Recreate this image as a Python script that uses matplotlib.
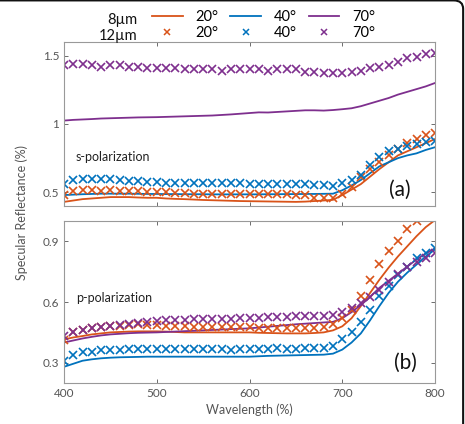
import numpy as np
import matplotlib
matplotlib.use('Agg')
import matplotlib.pyplot as plt
from matplotlib.lines import Line2D
from matplotlib.patches import FancyBboxPatch

plt.rcParams['font.family'] = ['Lato', 'DejaVu Sans']

# wavelength grid (nm), 10 nm step
wl = np.arange(400, 801, 10)

# ---- s-polarization (a) ----
s_line20 = [0.43, 0.44, 0.45, 0.455, 0.46, 0.465, 0.465, 0.465, 0.462, 0.46, 0.46,
            0.455, 0.452, 0.45, 0.447, 0.444, 0.442, 0.44, 0.438, 0.436, 0.435,
            0.434, 0.433, 0.432, 0.431, 0.43, 0.432, 0.436, 0.44, 0.445, 0.48,
            0.52, 0.56, 0.615, 0.67, 0.72, 0.77, 0.80, 0.83, 0.86, 0.89]
s_line40 = [0.48, 0.483, 0.486, 0.488, 0.49, 0.49, 0.49, 0.49, 0.489, 0.488, 0.488,
            0.487, 0.487, 0.486, 0.486, 0.486, 0.485, 0.485, 0.485, 0.485, 0.485,
            0.485, 0.486, 0.486, 0.487, 0.487, 0.488, 0.488, 0.489, 0.49, 0.515,
            0.55, 0.59, 0.64, 0.69, 0.72, 0.75, 0.77, 0.785, 0.81, 0.83]
s_line70 = [1.025, 1.03, 1.033, 1.036, 1.04, 1.042, 1.044, 1.046, 1.048, 1.049, 1.05,
            1.052, 1.054, 1.056, 1.058, 1.06, 1.062, 1.066, 1.07, 1.075, 1.08,
            1.085, 1.084, 1.088, 1.092, 1.096, 1.10, 1.10, 1.098, 1.102, 1.108,
            1.115, 1.13, 1.15, 1.17, 1.19, 1.215, 1.235, 1.255, 1.275, 1.30]
s_x20 = [0.48, 0.51, 0.515, 0.515, 0.51, 0.515, 0.51, 0.51, 0.51, 0.505, 0.505,
         0.50, 0.495, 0.495, 0.49, 0.49, 0.49, 0.49, 0.49, 0.49, 0.49,
         0.49, 0.485, 0.485, 0.485, 0.48, 0.48, 0.455, 0.455, 0.455, 0.49,
         0.54, 0.61, 0.67, 0.72, 0.77, 0.82, 0.86, 0.89, 0.92, 0.935]
s_x40 = [0.56, 0.59, 0.60, 0.60, 0.595, 0.595, 0.59, 0.585, 0.58, 0.575, 0.575,
         0.57, 0.57, 0.565, 0.565, 0.565, 0.565, 0.565, 0.565, 0.565, 0.56,
         0.56, 0.56, 0.56, 0.56, 0.56, 0.56, 0.55, 0.55, 0.545, 0.57,
         0.59, 0.63, 0.70, 0.76, 0.80, 0.82, 0.84, 0.85, 0.87, 0.875]
s_x70 = [1.43, 1.44, 1.44, 1.43, 1.42, 1.43, 1.43, 1.42, 1.42, 1.41, 1.41,
         1.41, 1.41, 1.40, 1.40, 1.40, 1.40, 1.39, 1.40, 1.40, 1.40,
         1.40, 1.39, 1.40, 1.40, 1.40, 1.38, 1.38, 1.37, 1.37, 1.37,
         1.38, 1.39, 1.41, 1.42, 1.43, 1.45, 1.48, 1.49, 1.51, 1.52]

# ---- p-polarization (b) ----
p_line20 = [0.415, 0.425, 0.432, 0.44, 0.445, 0.45, 0.452, 0.454, 0.455, 0.455, 0.455,
            0.454, 0.452, 0.45, 0.45, 0.45, 0.45, 0.45, 0.45, 0.45, 0.45,
            0.448, 0.447, 0.446, 0.445, 0.445, 0.445, 0.447, 0.45, 0.46, 0.48,
            0.52, 0.58, 0.645, 0.71, 0.77, 0.825, 0.875, 0.925, 0.97, 1.005]
p_line40 = [0.28, 0.295, 0.31, 0.317, 0.322, 0.325, 0.327, 0.328, 0.329, 0.33, 0.33,
            0.33, 0.33, 0.33, 0.33, 0.33, 0.33, 0.33, 0.33, 0.33, 0.33,
            0.332, 0.334, 0.335, 0.336, 0.337, 0.338, 0.339, 0.34, 0.345, 0.365,
            0.40, 0.445, 0.51, 0.58, 0.645, 0.70, 0.745, 0.785, 0.825, 0.86]
p_line70 = [0.40, 0.41, 0.42, 0.428, 0.435, 0.44, 0.443, 0.446, 0.448, 0.449, 0.45,
            0.452, 0.454, 0.456, 0.458, 0.46, 0.462, 0.464, 0.466, 0.468, 0.47,
            0.474, 0.478, 0.482, 0.486, 0.49, 0.493, 0.496, 0.499, 0.502, 0.52,
            0.55, 0.585, 0.625, 0.67, 0.705, 0.74, 0.775, 0.81, 0.84, 0.865]
p_x20 = [0.41, 0.45, 0.46, 0.47, 0.475, 0.48, 0.48, 0.485, 0.49, 0.485, 0.485,
         0.48, 0.48, 0.48, 0.475, 0.475, 0.475, 0.475, 0.475, 0.475, 0.475,
         0.47, 0.47, 0.47, 0.47, 0.47, 0.47, 0.47, 0.475, 0.49, 0.52,
         0.56, 0.63, 0.71, 0.79, 0.85, 0.90, 0.96, 1.00, 1.04, 1.07]
p_x40 = [0.31, 0.34, 0.355, 0.355, 0.365, 0.365, 0.365, 0.37, 0.37, 0.37, 0.37,
         0.37, 0.37, 0.37, 0.37, 0.37, 0.37, 0.37, 0.365, 0.37, 0.37,
         0.37, 0.37, 0.375, 0.37, 0.37, 0.375, 0.375, 0.375, 0.385, 0.415,
         0.45, 0.50, 0.56, 0.63, 0.68, 0.735, 0.775, 0.815, 0.84, 0.865]
p_x70 = [0.43, 0.45, 0.46, 0.47, 0.475, 0.48, 0.485, 0.49, 0.495, 0.50, 0.505,
         0.51, 0.51, 0.512, 0.515, 0.515, 0.517, 0.518, 0.518, 0.52, 0.52,
         0.522, 0.525, 0.525, 0.527, 0.53, 0.53, 0.532, 0.533, 0.535, 0.55,
         0.57, 0.595, 0.625, 0.66, 0.70, 0.74, 0.775, 0.80, 0.815, 0.84]

C20, C40, C70 = '#D95319', '#0072BD', '#7E2F8E'
GREY = '#555555'
SPINE = '#999999'

fig = plt.figure(figsize=(4.65, 4.24), dpi=100)
ax1 = fig.add_axes([0.1376, 0.5142, 0.798, 0.3868])
ax2 = fig.add_axes([0.1376, 0.0967, 0.798, 0.382])

panels = [
    (ax1, (s_line20, s_line40, s_line70), (s_x20, s_x40, s_x70), (0.4, 1.6),
     [0.5, 1, 1.5], ['0.5', '1', '1.5'], 's-polarization', (0.03, 0.30), '(a)', (0.905, 0.10)),
    (ax2, (p_line20, p_line40, p_line70), (p_x20, p_x40, p_x70), (0.2, 1.0),
     [0.3, 0.6, 0.9], ['0.3', '0.6', '0.9'], 'p-polarization', (0.034, 0.525), '(b)', (0.92, 0.125)),
]

for ax, lines, marks, ylim, yt, ytl, pol, pol_xy, tag, tag_xy in panels:
    for y, c in zip(lines, (C20, C40, C70)):
        ax.plot(wl, y, color=c, lw=1.3)
    for y, c in zip(marks, (C20, C40, C70)):
        ax.plot(wl, y, 'x', color=c, ms=5.5, mew=1.2, ls='none')
    ax.set_xlim(400, 800)
    ax.set_ylim(*ylim)
    ax.set_yticks(yt)
    ax.set_yticklabels(ytl)
    ax.set_xticks(range(400, 801, 100))
    ax.tick_params(direction='in', length=3, colors=GREY, labelsize=8.5,
                   top=True, right=True, width=0.6)
    for sp in ax.spines.values():
        sp.set_color(SPINE)
        sp.set_linewidth(0.8)
    ax.text(*pol_xy, pol, transform=ax.transAxes, fontsize=9,
            color='#222222', va='center')
    ax.text(*tag_xy, tag, transform=ax.transAxes, fontsize=15,
            color='#111111', ha='center', va='center')

ax1.tick_params(labelbottom=False)
ax2.set_xlabel('Wavelength (%)', fontsize=9, color=GREY, labelpad=3)
fig.text(0.047, 0.5, 'Specular Reflectance (%)', rotation=90, fontsize=9,
         color=GREY, ha='center', va='center')

# legend: 8um lines on first row, 12um crosses on second row
handles = [
    Line2D([], [], color=C20, lw=1.3), Line2D([], [], color=C20, marker='x', ls='none', ms=4.5, mew=1.1),
    Line2D([], [], color=C40, lw=1.3), Line2D([], [], color=C40, marker='x', ls='none', ms=4.5, mew=1.1),
    Line2D([], [], color=C70, lw=1.3), Line2D([], [], color=C70, marker='x', ls='none', ms=4.5, mew=1.1),
]
labels = ['20°', '20°', '40°', '40°', '70°', '70°']
fig.legend(handles, labels, ncol=3, loc='upper left', bbox_to_anchor=(0.305, 1.0),
           frameon=False, fontsize=10.5, handlelength=2.1, handletextpad=0.9,
           columnspacing=0.8, labelspacing=0.15, borderpad=0.2)
fig.text(0.295, 0.953, '8µm', fontsize=10.5, ha='right', va='center', color='#111111')
fig.text(0.295, 0.915, '12µm', fontsize=10.5, ha='right', va='center', color='#111111')

# frame of the source image
fig.patches.append(FancyBboxPatch((-0.05, -0.05), 1.046, 1.049,
                                  boxstyle='round,pad=0,rounding_size=0.02',
                                  transform=fig.transFigure, fill=False,
                                  ec='#111111', lw=1.5))

fig.savefig('out.png', dpi=100)
